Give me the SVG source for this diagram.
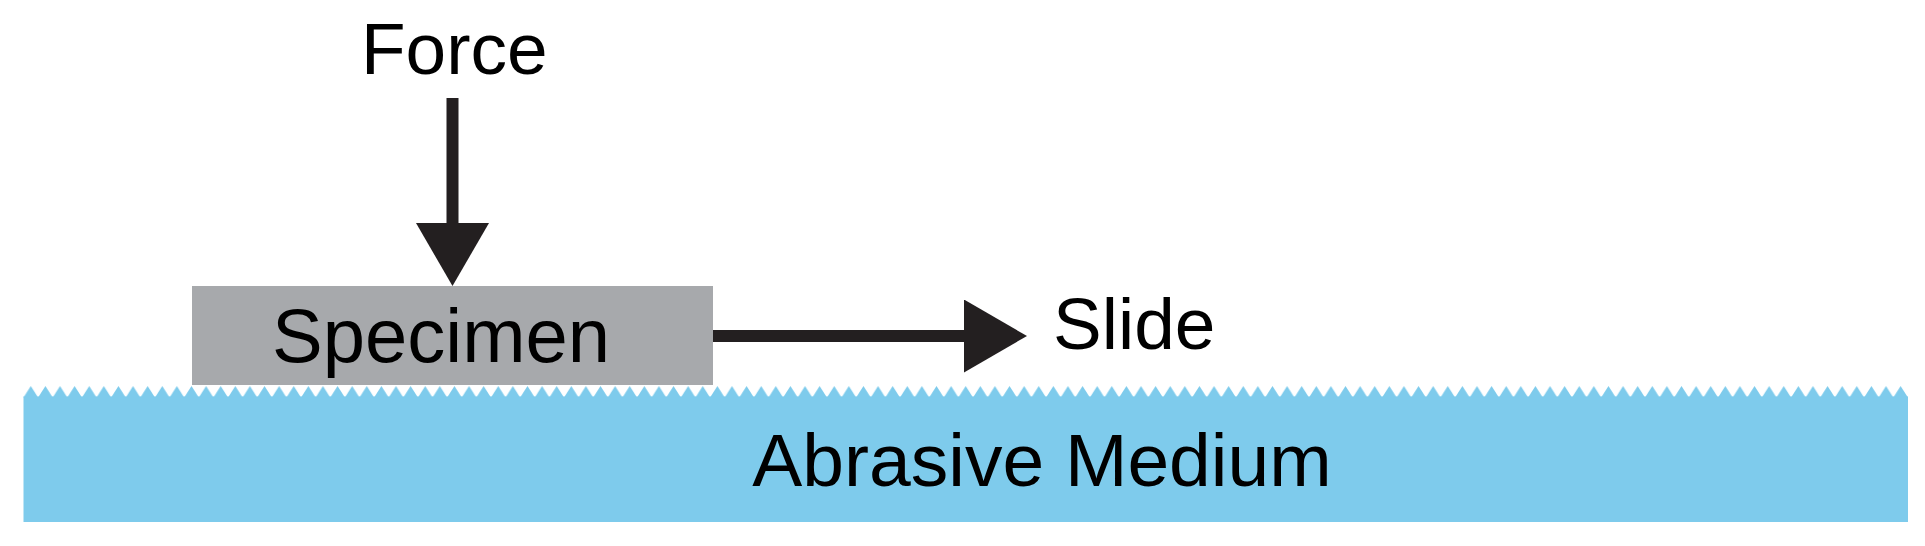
<svg xmlns="http://www.w3.org/2000/svg" width="1925" height="546" viewBox="0 0 1925 546">
<style>
  text { font-family: "Liberation Sans", Arial, sans-serif; fill: #000; }
  .arrow { stroke: #231f20; stroke-width: 12; fill: none; marker-end: url(#head); }
</style>
<defs>
  <marker id="head" markerUnits="userSpaceOnUse" markerWidth="64" markerHeight="73" refX="0" refY="36.5" orient="auto" viewBox="0 0 64 73">
    <path d="M0,0 L63,36.5 L0,73 Z" fill="#231f20"/>
  </marker>
  <pattern id="teeth" patternUnits="userSpaceOnUse" x="23.5" y="385" width="14.608" height="13">
    <path d="M0,12.5 L7.304,1 L14.608,12.5 Z" fill="#7ecbec"/>
  </pattern>
</defs>
<rect width="1925" height="546" fill="#ffffff"/>
<g id="medium">
  <rect x="23.5" y="385" width="1884.5" height="13" fill="url(#teeth)"/>
  <rect x="23.5" y="396.5" width="1884.5" height="125.5" fill="#7ecbec"/>
  <text x="1042" y="486" font-size="75" text-anchor="middle">Abrasive Medium</text>
</g>
<g id="specimen">
  <rect x="192" y="286" width="521" height="99" fill="#a7a9ac"/>
  <text x="441" y="362" font-size="76" text-anchor="middle">Specimen</text>
</g>
<g id="force-label">
  <text x="361" y="74" font-size="73">Force</text>
</g>
<g id="slide-label">
  <text x="1053" y="349" font-size="73">Slide</text>
</g>
<g id="connectors">
  <line class="arrow" x1="452.5" y1="98" x2="452.5" y2="223" stroke-width="13"/>
  <line class="arrow" x1="713" y1="336" x2="964" y2="336"/>
</g>
</svg>
